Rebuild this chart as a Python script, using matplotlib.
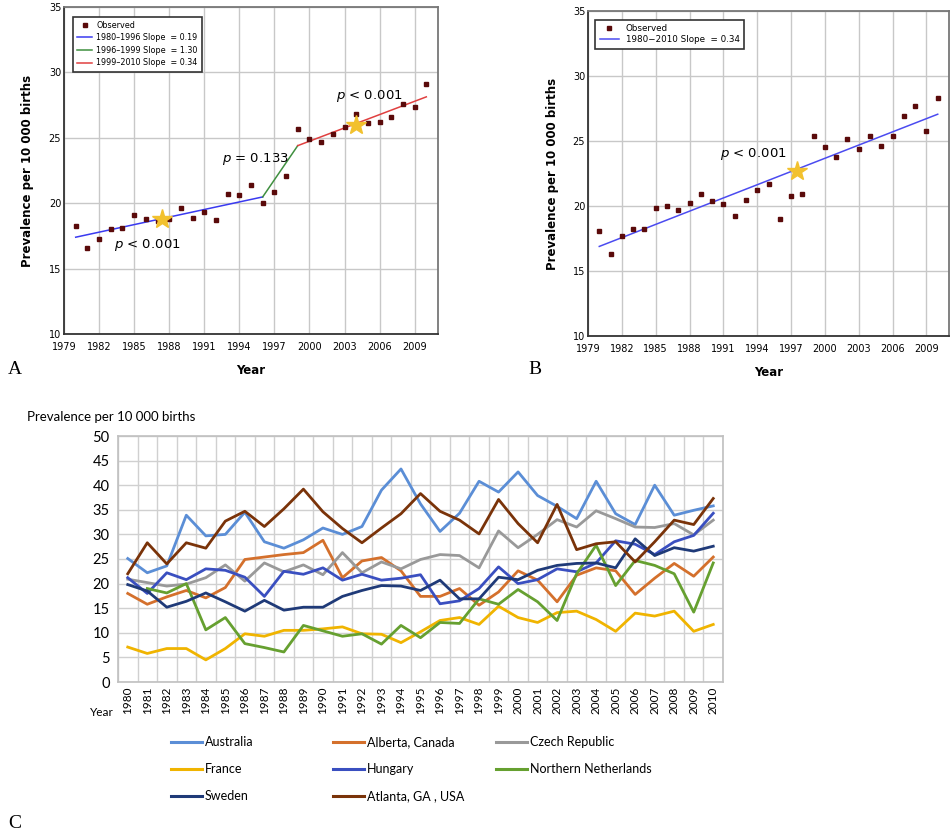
import matplotlib
matplotlib.use('Agg')
from matplotlib import pyplot as plt
from matplotlib.lines import Line2D

# Panel A / B: observed prevalence per 10 000 births, 1980-2010
years_ab = list(range(1980, 2011))
obs_a = [18.24, 16.60, 17.27, 17.99, 18.09, 19.08, 18.80, 18.67, 18.80, 19.64,
         18.88, 19.31, 18.72, 20.73, 20.66, 21.42, 20.00, 20.83, 22.05, 25.67,
         24.90, 24.70, 25.26, 25.84, 26.81, 26.10, 26.17, 26.61, 27.60, 27.35,
         29.15]
obs_b = [18.07, 16.30, 17.66, 18.22, 18.22, 19.81, 20.02, 19.66, 20.22, 20.96,
         20.37, 20.19, 19.25, 20.45, 21.22, 21.73, 19.02, 20.78, 20.91, 25.39,
         24.52, 23.76, 25.14, 24.42, 25.37, 24.63, 25.39, 26.93, 27.73, 25.75,
         28.29]

# joinpoint fits (segment ends)
seg_a_years = [[1980, 1996], [1996, 1999], [1999, 2010]]
seg_a_vals = [[17.40, 20.48], [20.48, 24.40], [24.40, 28.13]]
seg_a_labels = ['1980\u20131996 Slope  = 0.19', '1996\u20131999 Slope  = 1.30',
                '1999\u20132010 Slope  = 0.34']
seg_b_years = [1980, 2010]
seg_b_vals = [16.89, 27.06]
star_a = ([1987.4, 2004.0], [18.8, 26.0])
star_b = ([1997.5], [22.68])

# Panel C: registries
years_c = [str(y) for y in range(1980, 2011)]
australia = [25.1, 22.2, 23.6, 33.9, 29.7, 30.0, 34.5, 28.5, 27.2, 28.9,
             31.3, 30.0, 31.6, 39.0, 43.3, 36.2, 30.6, 34.3, 40.8, 38.6,
             42.7, 37.9, 35.7, 33.2, 40.8, 34.2, 32.0, 40.0, 33.9, 34.9, 35.8]
alberta = [18.0, 15.8, 17.3, 18.6, 17.1, 19.2, 24.9, 25.4, 25.9, 26.3,
           28.8, 21.2, 24.6, 25.3, 22.6, 17.4, 17.4, 19.0, 15.6, 18.3,
           22.6, 20.7, 16.3, 21.7, 23.2, 22.6, 17.8, 21.1, 24.1, 21.5, 25.4]
czech = [20.9, 20.2, 19.5, 19.9, 21.2, 23.8, 20.5, 24.2, 22.4, 23.8,
         21.8, 26.3, 22.2, 24.4, 23.0, 24.9, 25.9, 25.7, 23.2, 30.7,
         27.3, 30.0, 33.0, 31.5, 34.8, 33.2, 31.5, 31.4, 32.2, 29.9, 32.9]
france = [7.1, 5.8, 6.8, 6.8, 4.5, 6.8, 9.8, 9.3, 10.5, 10.5,
          10.8, 11.2, 9.8, 9.7, 8.0, 10.2, 12.5, 13.1, 11.7, 15.4,
          13.1, 12.1, 14.1, 14.4, 12.7, 10.3, 14.0, 13.4, 14.4, 10.3, 11.7]
hungary = [21.2, 18.0, 22.2, 20.8, 23.0, 22.7, 21.3, 17.4, 22.5, 21.9,
           23.2, 20.7, 21.9, 20.7, 21.1, 21.8, 15.9, 16.5, 19.0, 23.4,
           20.0, 20.8, 23.0, 22.4, 24.2, 28.7, 28.0, 25.9, 28.5, 29.8, 34.3]
n_netherlands = [None, 19.0, 18.1, 20.0, 10.6, 13.1, 7.8, 7.0, 6.1, 11.5,
                 10.4, 9.3, 9.8, 7.7, 11.5, 9.0, 12.1, 11.9, 16.9, 15.8,
                 18.8, 16.3, 12.5, 22.0, 27.8, 19.6, 24.7, 23.7, 22.0, 14.2, 24.2]
sweden = [19.8, 18.5, 15.2, 16.4, 18.1, 16.3, 14.4, 16.6, 14.6, 15.2,
          15.2, 17.4, 18.6, 19.6, 19.5, 18.6, 20.7, 16.9, 16.9, 21.3,
          20.8, 22.7, 23.7, 24.1, 24.2, 23.2, 29.1, 25.7, 27.3, 26.6, 27.6]
atlanta = [22.0, 28.3, 24.0, 28.3, 27.2, 32.7, 34.7, 31.6, 35.2, 39.2,
           34.6, 31.2, 28.3, 31.3, 34.2, 38.3, 34.7, 32.9, 30.1, 37.1,
           32.2, 28.3, 36.1, 26.9, 28.1, 28.5, 24.4, 28.5, 32.9, 32.0, 37.3]

series_c = [
    ('Australia', australia, '#5b8ed6'),
    ('Alberta, Canada', alberta, '#d4702c'),
    ('Czech Republic', czech, '#999999'),
    ('France', france, '#f0b400'),
    ('Hungary', hungary, '#3a4fc0'),
    ('Northern Netherlands', n_netherlands, '#66a030'),
    ('Sweden', sweden, '#1f3a78'),
    ('Atlanta, GA , USA', atlanta, '#7a3309'),
]

W, H = 951, 831
fig = plt.figure(figsize=(W / 100, H / 100), dpi=100)


def fig_rect(left, top, right, bottom):
    return [left / W, 1 - bottom / H, (right - left) / W, (bottom - top) / H]


def style_ab(ax):
    ax.set_xlim(1979, 2011)
    ax.set_ylim(10, 35)
    ax.set_xticks(range(1979, 2011, 3))
    ax.set_yticks(range(10, 36, 5))
    ax.grid(True, color='#c8c8c8', lw=1)
    ax.set_axisbelow(True)
    ax.tick_params(length=0, labelsize=7)
    ax.tick_params(axis='x', pad=6)
    ax.tick_params(axis='y', pad=2)
    for s in ax.spines.values():
        s.set_color('#777777')
        s.set_linewidth(1.3)
    ax.spines['left'].set_color('#333333')
    ax.spines['bottom'].set_color('#333333')
    ax.set_ylabel('Prevalence per 10 000 births', fontsize=8.5, fontweight='bold')
    ax.set_xlabel('Year', fontsize=8.5, fontweight='bold')


# ---- Panel A
axA = fig.add_axes(fig_rect(64, 7, 438, 334))
style_ab(axA)
axA.yaxis.set_label_coords(-0.080, 0.5)
axA.xaxis.set_label_coords(0.5, -0.092)
hA = [Line2D([], [], ls='none', marker='s', ms=3.5, color='#5a0a0a', label='Observed')]
for yrs, vals, lab, c in zip(seg_a_years, seg_a_vals, seg_a_labels,
                             ['#3a3af0', '#3f8f3f', '#e04040']):
    ln, = axA.plot(yrs, vals, color=c, lw=1.1, label=lab)
    hA.append(ln)
axA.plot(years_ab, obs_a, ls='none', marker='s', ms=3.5, color='#5a0a0a', zorder=3)
axA.plot(*star_a, ls='none', marker='*', ms=15, color='#f2c12e', zorder=4)
axA.text(1986.1, 16.77, r'$p$ < 0.001', fontsize=9.5, ha='center', va='center')
axA.text(1995.4, 23.35, r'$p$ = 0.133', fontsize=9.5, ha='center', va='center')
axA.text(2005.1, 28.18, r'$p$ < 0.001', fontsize=9.5, ha='center', va='center')
legA = axA.legend(handles=hA, loc='upper left', bbox_to_anchor=(0.013, 0.983),
                  fontsize=5.8, fancybox=False, edgecolor='#333333', framealpha=1,
                  handlelength=1.9, handletextpad=0.5, labelspacing=0.45,
                  borderpad=0.5)
legA.get_frame().set_linewidth(1.2)

# ---- Panel B
axB = fig.add_axes(fig_rect(588, 11, 949, 336))
style_ab(axB)
axB.yaxis.set_label_coords(-0.081, 0.5)
axB.xaxis.set_label_coords(0.5, -0.092)
lnB, = axB.plot(seg_b_years, seg_b_vals, color='#4b4bf0', lw=1.1,
                label='1980\u22122010 Slope  = 0.34')
axB.plot(years_ab, obs_b, ls='none', marker='s', ms=3.5, color='#5a0a0a', zorder=3)
axB.plot(*star_b, ls='none', marker='*', ms=15, color='#f2c12e', zorder=4)
axB.text(1993.7, 23.99, r'$p$ < 0.001', fontsize=9.5, ha='center', va='center')
legB = axB.legend(handles=[hA[0], lnB], loc='upper left', bbox_to_anchor=(0.008, 0.987),
                  fontsize=6.3, fancybox=False, edgecolor='#333333', framealpha=1,
                  handlelength=2.2, labelspacing=0.25, borderpad=0.5)
legB.get_frame().set_linewidth(1.2)

# ---- Panel C
axC = fig.add_axes(fig_rect(118, 436, 723, 682))
for name, vals, c in series_c:
    y = [float('nan') if v is None else v for v in vals]
    axC.plot(years_c, y, color=c, lw=2, label=name)
axC.set_xlim(-0.5, len(years_c) - 0.5)
axC.set_ylim(0, 50)
axC.set_yticks(range(0, 51, 5))
axC.set_xticks(range(len(years_c)))
axC.set_xticklabels(years_c, rotation=90, fontsize=8.5, family='Lato')
axC.set_xticks([i - 0.5 for i in range(len(years_c) + 1)], minor=True)
axC.tick_params(which='both', length=0)
axC.tick_params(axis='y', labelsize=10.5, pad=6)
for t in axC.get_yticklabels():
    t.set_family('Lato')
axC.grid(True, which='minor', axis='x', color='#d0d0d0', lw=1)
axC.grid(True, which='major', axis='y', color='#d0d0d0', lw=1)
axC.set_axisbelow(True)
for s in axC.spines.values():
    s.set_color('#c0c0c0')
    s.set_linewidth(1.2)

fig.text(27 / W, 1 - 417 / H, 'Prevalence per 10 000 births', fontsize=9.5,
         family='Lato', ha='left', va='center')
fig.text(102 / W, 1 - 712 / H, 'Year', fontsize=8.5, family='Lato',
         ha='center', va='center')

# legend for C, three columns laid out row-wise like the original
handles = {n: Line2D([], [], color=c, lw=2.2) for n, _, c in series_c}
columns = [['Australia', 'France', 'Sweden'],
           ['Alberta, Canada', 'Hungary', 'Atlanta, GA , USA'],
           ['Czech Republic', 'Northern Netherlands']]
for col, x0 in zip(columns, [171, 333, 496]):
    fig.legend(handles=[handles[n] for n in col], labels=col, loc='upper left',
               bbox_to_anchor=(x0 / W, 1 - 736 / H), frameon=False,
               prop={'family': 'Lato', 'size': 9}, handlelength=2.5,
               handletextpad=0.2, labelspacing=1.2, borderpad=0, borderaxespad=0)

for lab, x, y in [('A', 8, 370), ('B', 528, 369), ('C', 8, 823)]:
    fig.text(x / W, 1 - y / H, lab, fontsize=14, family='Liberation Serif',
             ha='left', va='center')

fig.savefig('out.png', dpi=100)
